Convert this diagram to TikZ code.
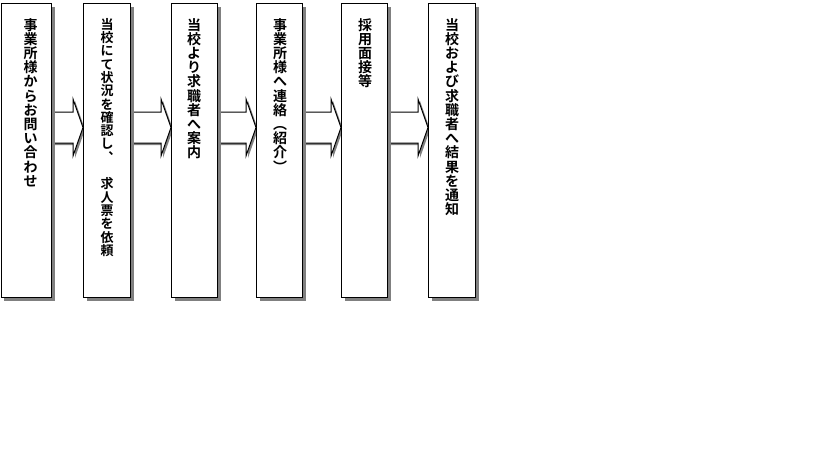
\documentclass[tikz,border=0pt]{standalone}
\usepackage{fontspec}
\newfontfamily\cjk{Noto Sans CJK JP}[BoldFont={Noto Sans CJK JP Bold}]
\usetikzlibrary{calc,shadows,backgrounds}
\tikzset{
  shade/.style={drop shadow={shadow xshift=3pt,shadow yshift=-3pt,fill=black!50,opacity=1}},
  stepbox/.style={draw=black,line width=1.1pt,fill=white,shade,anchor=north west,
    minimum height=294pt,inner sep=0pt},
  blockarrow/.style={draw=black,line width=1pt,fill=white,line join=miter,
    drop shadow={shadow xshift=2pt,shadow yshift=-2pt,fill=black!50,opacity=1}},
  vtext/.style={anchor=north,align=center,inner sep=0pt,
    font={\cjk\bfseries\fontsize{14}{14.2}\selectfont}},
  vtextsmall/.style={vtext,font={\cjk\bfseries\fontsize{13}{13.3}\selectfont}}
}
\newcommand\flowarrow[2]{%
  \draw[blockarrow] let \p1=(#1.east|-ay), \p2=(#2.west|-ay) in
    (\x1,\y1+15.5pt) -- (\x2-10pt,\y1+15.5pt) -- (\x2-10pt,\y1+28.5pt) -- (\x2,\y1)
    -- (\x2-10pt,\y1-28.5pt) -- (\x2-10pt,\y1-15.5pt) -- (\x1,\y1-15.5pt) -- cycle;}
\begin{document}
\begin{tikzpicture}[x=1pt,y=1pt]
\useasboundingbox (0,0) rectangle (819,-460);
\coordinate (ay) at (0,-127.5);
% boxes
\node[stepbox,minimum width=50.3pt] (b1) at (0.7,-3) {};
\node[stepbox,minimum width=47pt] (b2) at (83,-3) {};
\node[stepbox,minimum width=46pt] (b3) at (171,-3) {};
\node[stepbox,minimum width=46pt] (b4) at (256,-3) {};
\node[stepbox,minimum width=46pt] (b5) at (341,-3) {};
\node[stepbox,minimum width=47pt] (b6) at (428,-3) {};
% arrows behind the boxes
\begin{scope}[on background layer]
\flowarrow{b1}{b2}
\flowarrow{b2}{b3}
\flowarrow{b3}{b4}
\flowarrow{b4}{b5}
\flowarrow{b5}{b6}
\end{scope}
% texts
\node[vtext] (t1) at (30.5,-18) {事\\業\\所\\様\\か\\ら\\お\\問\\い\\合\\わ\\せ};
\node[vtextsmall] (t2) at (107,-18) {当\\校\\に\\て\\状\\況\\を\\確\\認\\し\\︑\\　\\求\\人\\票\\を\\依\\頼};
\node[vtext] (t3) at (194,-18) {当\\校\\よ\\り\\求\\職\\者\\へ\\案\\内};
\node[vtext] (t4) at (280,-18) {事\\業\\所\\様\\へ\\連\\絡\\︵\\紹\\介\\︶};
\node[vtext] (t5) at (365,-18) {採\\用\\面\\接\\等};
\node[vtext] (t6) at (452,-18) {当\\校\\お\\よ\\び\\求\\職\\者\\へ\\結\\果\\を\\通\\知};
\end{tikzpicture}
\end{document}
